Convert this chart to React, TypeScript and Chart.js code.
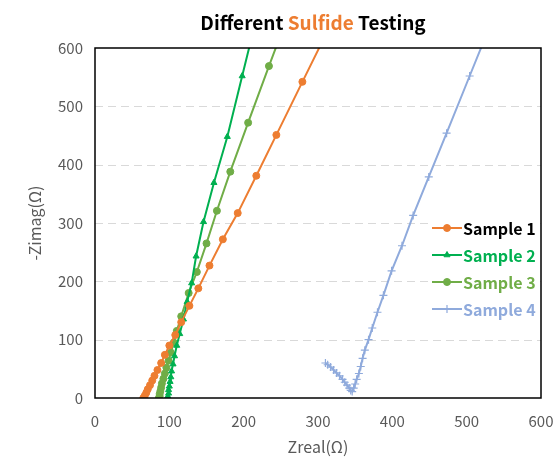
import React, { useEffect, useRef } from "react";
import { Chart, registerables } from "chart.js";
import { drawPoint } from "chart.js/helpers";

Chart.register(...registerables);

const seriesNames = ["Sample 1", "Sample 2", "Sample 3", "Sample 4"];
const seriesColors = ["#ED7D31", "#00B050", "#70AD47", "#8FAADC"];
const legendTextColors = ["#000000", "#00B050", "#70AD47", "#8FAADC"];
const pointStyles = ["circle", "triangle", "circle", "cross"];

const s1X = [65, 67, 69, 71, 74, 77, 80, 84, 89, 94, 100, 108, 116, 127, 139, 154, 172, 192, 217, 244, 279, 317];
const s1Y = [0, 4, 9, 15, 22, 30, 38, 48, 60, 74, 90, 108, 130, 158, 188, 227, 272, 317, 381, 451, 542, 640];

const s2X = [98, 98, 99, 99, 100, 101, 102, 103, 105, 107, 110, 114, 119, 124, 130, 136, 146, 160, 178, 198, 215];
const s2Y = [0, 3, 8, 14, 20, 28, 36, 46, 58, 72, 90, 110, 135, 165, 197, 243, 302, 369, 448, 552, 640];

const s3X = [86, 87, 87, 88, 89, 90, 92, 94, 96, 99, 102, 106, 110, 116, 126, 137, 150, 164, 182, 206, 234, 255];
const s3Y = [0, 3, 7, 12, 18, 25, 33, 42, 52, 64, 78, 95, 115, 140, 180, 216, 265, 321, 388, 472, 569, 640];

const s4X = [310, 313, 317, 321, 325, 329, 333, 336, 339, 342, 344, 346, 348, 350, 352, 355, 357.5, 360, 363, 368, 373, 380, 388, 399, 413, 428, 449, 473, 504, 532];
const s4Y = [60, 57, 53, 48, 43, 38, 32, 27, 22, 17, 13, 11, 17, 24, 32, 42, 54, 68, 82, 100, 120, 147, 176, 218, 261, 313, 379, 454, 552, 640];

const xTicks = [0, 100, 200, 300, 400, 500, 600];
const yTicks = [0, 100, 200, 300, 400, 500, 600];

const titleParts = [
  { text: "Different ", color: "#000000" },
  { text: "Sulfide", color: "#ED7D31" },
  { text: " Testing", color: "#000000" },
];
const xTitle = "Zreal(Ω)";
const yTitle = "-Zimag(Ω)";

const FONT = "'Noto Sans CJK SC', 'Noto Sans', sans-serif";

const xs = [s1X, s2X, s3X, s4X];
const ys = [s1Y, s2Y, s3Y, s4Y];

const gridPlugin = {
  id: "dashGrid",
  beforeDatasetsDraw(chart: any) {
    const { ctx, chartArea: a, scales } = chart;
    const yScale = scales.y;
    ctx.save();
    ctx.strokeStyle = "#D9D9D9";
    ctx.lineWidth = 1;
    ctx.setLineDash([8, 5]);
    for (const t of yScale.ticks) {
      if (t.value === 0 || t.value === 600) continue;
      const py = Math.round(yScale.getPixelForValue(t.value)) + 0.5;
      ctx.beginPath();
      ctx.moveTo(a.left, py);
      ctx.lineTo(a.right, py);
      ctx.stroke();
    }
    ctx.restore();
  },
};

const decorPlugin = {
  id: "decor",
  afterDraw(chart: any) {
    const { ctx, chartArea: a } = chart;
    ctx.save();
    // title
    ctx.font = `bold 19px ${FONT}`;
    ctx.textBaseline = "middle";
    ctx.textAlign = "left";
    const total = titleParts.reduce((s, p) => s + ctx.measureText(p.text).width, 0);
    let tx = (a.left + a.right) / 2 - total / 2 - 5;
    for (const p of titleParts) {
      ctx.fillStyle = p.color;
      ctx.fillText(p.text, tx, 23);
      tx += ctx.measureText(p.text).width;
    }
    // legend
    ctx.fillStyle = "#ffffff";
    ctx.fillRect(a.right - 111, a.top + 163, 110, 112);
    chart.data.datasets.forEach((ds: any, i: number) => {
      const y = a.top + 180 + i * 27;
      const x0 = a.right - 109;
      ctx.strokeStyle = ds.borderColor;
      ctx.lineWidth = 2;
      ctx.beginPath();
      ctx.moveTo(x0, y);
      ctx.lineTo(x0 + 30, y);
      ctx.stroke();
      ctx.fillStyle = ds.pointBackgroundColor;
      ctx.strokeStyle = ds.pointBorderColor;
      ctx.lineWidth = ds.pointBorderWidth;
      drawPoint(ctx, { pointStyle: ds.pointStyle, radius: ds.pointRadius, rotation: 0, borderWidth: ds.pointBorderWidth }, x0 + 15, y);
      ctx.font = `bold 16px ${FONT}`;
      ctx.fillStyle = legendTextColors[i];
      ctx.textBaseline = "middle";
      ctx.fillText(seriesNames[i], x0 + 31, y + 1);
    });
    // frame
    ctx.strokeStyle = "#000000";
    ctx.lineWidth = 1.5;
    ctx.strokeRect(a.left, a.top, a.right - a.left, a.bottom - a.top);
    ctx.restore();
  },
};

export default function App() {
  const ref = useRef<HTMLCanvasElement>(null);
  useEffect(() => {
    if (!ref.current) return;
    const datasets = seriesNames.map((name, i) => ({
      label: name,
      data: xs[i].map((x, j) => ({ x, y: ys[i][j] })),
      borderColor: seriesColors[i],
      backgroundColor: seriesColors[i],
      pointBackgroundColor: seriesColors[i],
      pointBorderColor: seriesColors[i],
      pointBorderWidth: i === 3 ? 1.2 : 1,
      pointStyle: pointStyles[i],
      pointRadius: i === 3 ? 4 : 3.5,
      borderWidth: 2,
      showLine: true,
      tension: 0,
    }));
    const chart = new Chart(ref.current, {
      type: "scatter",
      data: { datasets },
      plugins: [gridPlugin, decorPlugin],
      options: {
        animation: false,
        responsive: false,
        devicePixelRatio: 1,
        layout: { padding: { left: 0, right: 17, top: 48, bottom: 0 } },
        plugins: {
          legend: { display: false },
          title: { display: false },
          tooltip: { enabled: false },
        },
        scales: {
          x: {
            type: "linear",
            min: 0,
            max: 600,
            afterBuildTicks: (s: any) => {
              s.ticks = xTicks.map((v) => ({ value: v }));
            },
            afterFit: (s: any) => {
              s.height = 60;
              s.paddingLeft = 0;
              s.paddingRight = 0;
            },
            grid: { display: false, drawTicks: false },
            border: { display: false },
            ticks: { color: "#595959", font: { family: FONT, size: 15 }, padding: 14, maxRotation: 0 },
            title: { display: true, text: xTitle, color: "#595959", font: { family: FONT, size: 16 }, padding: { top: 0, bottom: 1 } },
          },
          y: {
            type: "linear",
            min: 0,
            max: 600,
            afterBuildTicks: (s: any) => {
              s.ticks = yTicks.map((v) => ({ value: v }));
            },
            afterFit: (s: any) => {
              s.width = 95;
              s.paddingTop = 0;
              s.paddingBottom = 0;
            },
            grid: { display: false, drawTicks: false },
            border: { display: false },
            ticks: { color: "#595959", font: { family: FONT, size: 15 }, padding: 12 },
            title: { display: true, text: yTitle, color: "#595959", font: { family: FONT, size: 16 }, padding: { top: 25, bottom: 0 } },
          },
        },
      } as any,
    });
    return () => chart.destroy();
  }, []);
  return (
    <div style={{ position: "fixed", left: 0, top: 0, width: 558, height: 458, background: "#fff" }}>
      <canvas ref={ref} width={558} height={458} />
    </div>
  );
}
